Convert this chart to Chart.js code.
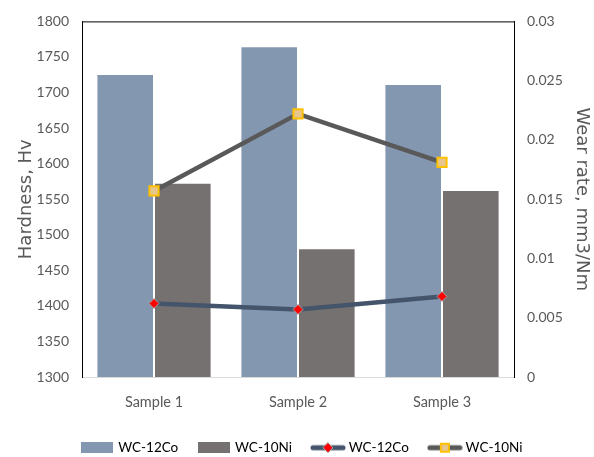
<!DOCTYPE html>
<html>
<head>
  <title>Hardness and wear rate</title>
  <script src="https://cdn.jsdelivr.net/npm/chart.js"></script>
  <style>
    body { margin: 0; background: #fff; }
  </style>
</head>
<body>
<canvas id="chart" width="594" height="457"></canvas>
<script>
  // values
  const samples = ["Sample 1", "Sample 2", "Sample 3"];
  const hardnessCo = [1726, 1765, 1712];
  const hardnessNi = [1573, 1481, 1563];
  const wearCo = [0.0062, 0.0057, 0.0068];
  const wearNi = [0.0157, 0.0222, 0.0181];
  const legendNames = ["WC-12Co", "WC-10Ni", "WC-12Co", "WC-10Ni"];

  const textGray = '#595959';
  const tickFont = { family: 'Lato', size: 14 };
  const titleFont = { family: 'DejaVu Sans', size: 18 };

  function drawDiamond(g, x, y) {
    g.beginPath();
    g.moveTo(x, y - 5); g.lineTo(x + 5, y); g.lineTo(x, y + 5); g.lineTo(x - 5, y);
    g.closePath();
    g.fillStyle = '#ff0000'; g.fill();
    g.lineWidth = 1; g.strokeStyle = '#a6a6a6'; g.stroke();
  }
  function drawSquare(g, x, y) {
    g.fillStyle = '#e6c68e'; g.fillRect(x - 4, y - 4, 8, 8);
    g.lineWidth = 2; g.strokeStyle = '#ffc000'; g.strokeRect(x - 4, y - 4, 8, 8);
  }

  // legend swatches
  function barSwatch(color) {
    const c = document.createElement('canvas');
    c.width = 32; c.height = 11;
    const g = c.getContext('2d');
    g.fillStyle = color;
    g.fillRect(0, 0, 32, 11);
    return c;
  }
  function lineSwatch(color, marker) {
    const c = document.createElement('canvas');
    c.width = 36; c.height = 14;
    const g = c.getContext('2d');
    g.lineWidth = 5; g.lineCap = 'round'; g.strokeStyle = color;
    g.beginPath(); g.moveTo(3, 7); g.lineTo(33, 7); g.stroke();
    marker(g, 18, 7);
    return c;
  }
  const swatches = [
    barSwatch('#8497b0'),
    barSwatch('#767171'),
    lineSwatch('#44546a', drawDiamond),
    lineSwatch('#595959', drawSquare)
  ];

  const topBorder = {
    id: 'topBorder',
    afterDatasetsDraw(chart) {
      const { ctx, chartArea: a } = chart;
      ctx.save();
      ctx.strokeStyle = '#000';
      ctx.lineWidth = 1;
      ctx.beginPath();
      ctx.moveTo(a.left, a.top + 0.5);
      ctx.lineTo(a.right, a.top + 0.5);
      ctx.stroke();
      ctx.restore();
    }
  };

  const ctx = document.getElementById('chart').getContext('2d');
  new Chart(ctx, {
    type: 'bar',
    data: {
      labels: samples,
      datasets: [
        { type: 'bar', label: legendNames[0], data: hardnessCo, yAxisID: 'y', order: 1,
          backgroundColor: '#8497b0', borderColor: '#ffffff', borderWidth: 1,
          categoryPercentage: 0.8, barPercentage: 1 },
        { type: 'bar', label: legendNames[1], data: hardnessNi, yAxisID: 'y', order: 1,
          backgroundColor: '#767171', borderColor: '#ffffff', borderWidth: 1,
          categoryPercentage: 0.8, barPercentage: 1 },
        { type: 'line', label: legendNames[2], data: wearCo, yAxisID: 'y1', order: 0,
          borderColor: '#44546a', borderWidth: 4.5, tension: 0,
          pointStyle: 'rectRot', pointRadius: 5, pointBackgroundColor: '#ff0000',
          pointBorderColor: '#a6a6a6', pointBorderWidth: 1 },
        { type: 'line', label: legendNames[3], data: wearNi, yAxisID: 'y1', order: 0,
          borderColor: '#595959', borderWidth: 4.5, tension: 0,
          pointStyle: 'rect', pointRadius: 6.5, pointBackgroundColor: '#e6c68e',
          pointBorderColor: '#ffc000', pointBorderWidth: 2 }
      ]
    },
    options: {
      responsive: false,
      animation: false,
      layout: { padding: { top: 21, left: 12, right: 0, bottom: 0 } },
      plugins: {
        tooltip: { enabled: false },
        legend: {
          position: 'bottom',
          maxHeight: 38,
          labels: {
            usePointStyle: true,
            pointStyleWidth: 28,
            padding: 22,
            color: textGray,
            font: { family: 'Lato', size: 13.5 },
            generateLabels: () => legendNames.map((name, i) => ({
              text: name, pointStyle: swatches[i], datasetIndex: i,
              fillStyle: 'transparent', strokeStyle: 'transparent', lineWidth: 0, hidden: false
            }))
          }
        }
      },
      scales: {
        x: {
          grid: { display: false, drawTicks: false },
          border: { color: '#d9d9d9', width: 1 },
          ticks: { color: textGray, font: { family: 'Lato', size: 14.5 }, padding: 17 },
          afterFit: s => { s.height = 42; }
        },
        y: {
          position: 'left',
          min: 1300, max: 1800,
          grid: { display: false, drawTicks: false },
          border: { color: '#000', width: 1 },
          ticks: { stepSize: 50, color: textGray, font: tickFont, padding: 13, callback: v => String(v) },
          title: { display: true, text: 'Hardness, Hv', color: textGray, font: titleFont, padding: { top: 4, bottom: 0 } },
          afterFit: s => { s.width = 70; }
        },
        y1: {
          position: 'right',
          min: 0, max: 0.03,
          grid: { display: false, drawTicks: false },
          border: { color: '#000', width: 1 },
          ticks: { stepSize: 0.005, color: textGray, font: tickFont, padding: 13, callback: v => String(+v.toFixed(3)) },
          title: { display: true, text: 'Wear rate, mm3/Nm', color: textGray, font: titleFont, padding: { top: 2, bottom: 0 } },
          afterFit: s => { s.width = 80; }
        }
      }
    },
    plugins: [topBorder]
  });
</script>
</body>
</html>
